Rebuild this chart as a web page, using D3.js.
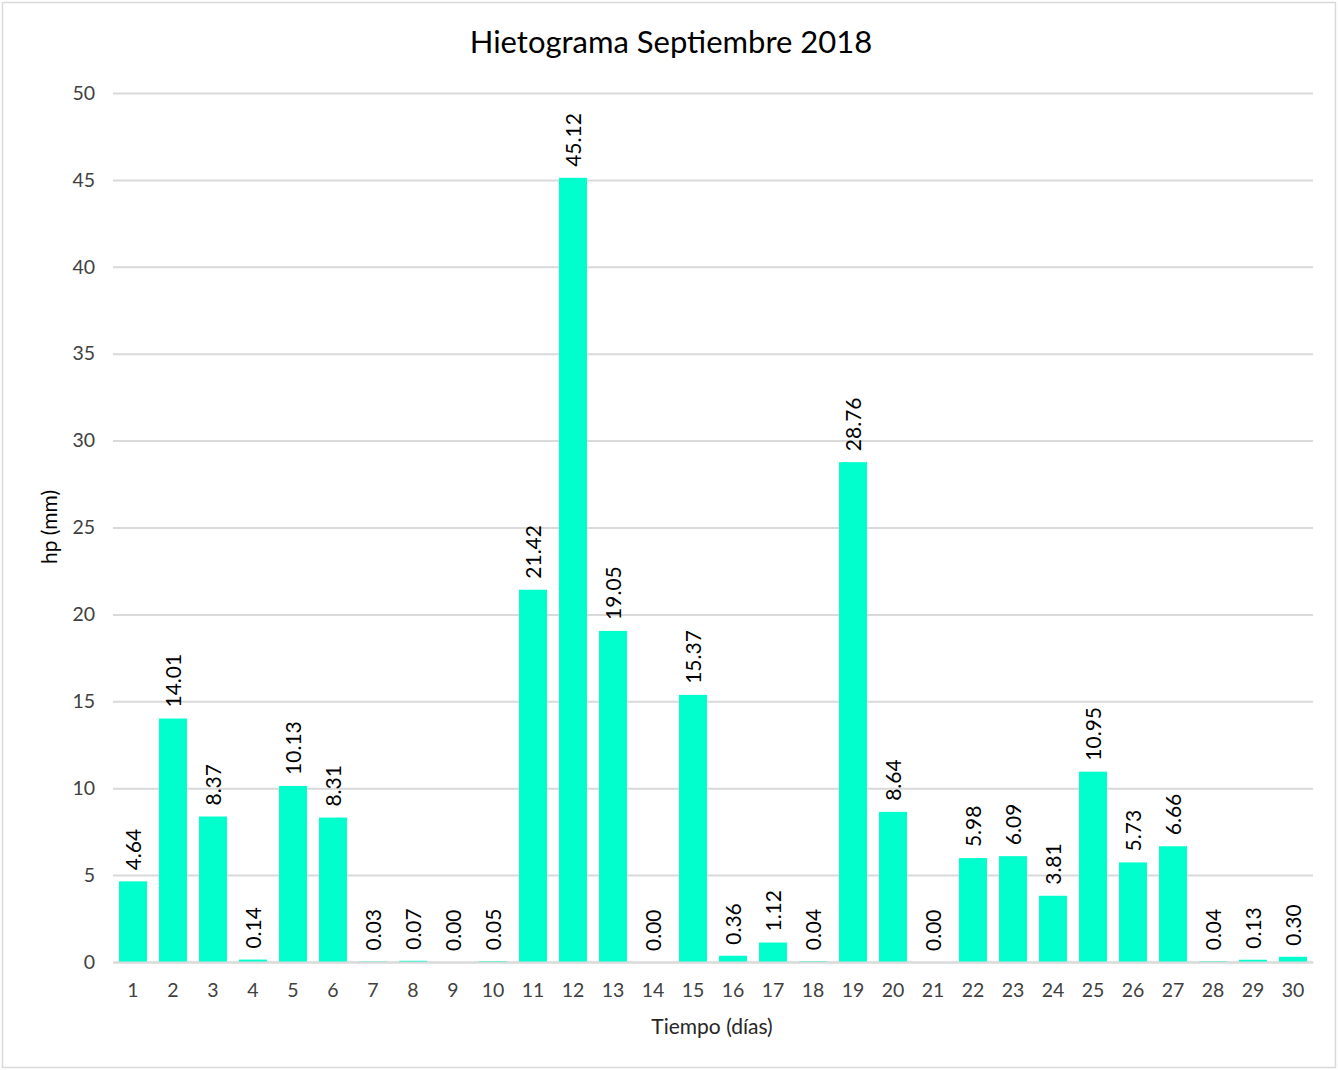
<!DOCTYPE html>
<html><head><meta charset="utf-8">
<script src="https://cdn.jsdelivr.net/npm/d3@7"></script>
<style>body{margin:0;background:#fff}</style>
</head><body>
<svg id="c" width="1338" height="1070"></svg>
<script>
const days = d3.range(1, 31).map(String);
const hp = [4.64,14.01,8.37,0.14,10.13,8.31,0.03,0.07,0.00,0.05,21.42,45.12,19.05,0.00,15.37,0.36,1.12,0.04,28.76,8.64,0.00,5.98,6.09,3.81,10.95,5.73,6.66,0.04,0.13,0.30];
const yTicks = [0,5,10,15,20,25,30,35,40,45,50];
const title = "Hietograma Septiembre 2018";
const xTitle = "Tiempo (días)";
const yTitle = "hp (mm)";

const FONT = "Lato, 'Open Sans', sans-serif";
const svg = d3.select("#c").style("font-family", FONT);
svg.append("rect").attr("x",2.5).attr("y",2.5).attr("width",1333).attr("height",1065)
  .attr("fill","#fff").attr("stroke","#d9d9d9").attr("stroke-width",1.5);

const m = {l:113, r:1313, t:93, b:962};
const x = d3.scaleBand().domain(days).range([m.l, m.r]).paddingInner(0.3).paddingOuter(0.15);
const y = d3.scaleLinear().domain([0,50]).range([m.b, m.t]);

const gy = svg.append("g").attr("transform",`translate(${m.l},0)`)
  .call(d3.axisLeft(y).tickValues(yTicks).tickSize(-(m.r-m.l)).tickPadding(18));
gy.select(".domain").remove();
gy.selectAll(".tick line").attr("stroke","#d9d9d9").attr("stroke-width",2);
gy.selectAll(".tick text").attr("font-size",19.5).attr("fill","#404040").attr("font-family",FONT);

svg.selectAll("rect.bar").data(hp).join("rect").attr("class","bar")
  .attr("x",(d,i)=>x(days[i])).attr("width",x.bandwidth())
  .attr("y",d=>y(d)).attr("height",d=>y(0)-y(d)).attr("fill","#00ffcc");

const gx = svg.append("g").attr("transform",`translate(0,${m.b})`)
  .call(d3.axisBottom(x).tickSize(0).tickPadding(21));
gx.select(".domain").attr("stroke","#d9d9d9").attr("stroke-width",2);
gx.selectAll(".tick text").attr("font-size",19.5).attr("fill","#404040").attr("font-family",FONT);

svg.selectAll("text.lbl").data(hp).join("text").attr("class","lbl")
  .attr("transform",(d,i)=>`translate(${x(days[i])+x.bandwidth()/2+7.5},${y(d)-11}) rotate(-90)`)
  .attr("font-size",21).attr("fill","#000").text(d=>d.toFixed(2));

svg.append("text").attr("x",671).attr("y",53).attr("text-anchor","middle")
  .attr("font-size",31).attr("fill","#000").text(title);
svg.append("text").attr("x",712).attr("y",1034).attr("text-anchor","middle")
  .attr("font-size",21).attr("fill","#262626").text(xTitle);
svg.append("text").attr("transform","translate(57,527) rotate(-90)").attr("text-anchor","middle")
  .attr("font-size",21).attr("fill","#000").text(yTitle);
</script>
</body></html>
